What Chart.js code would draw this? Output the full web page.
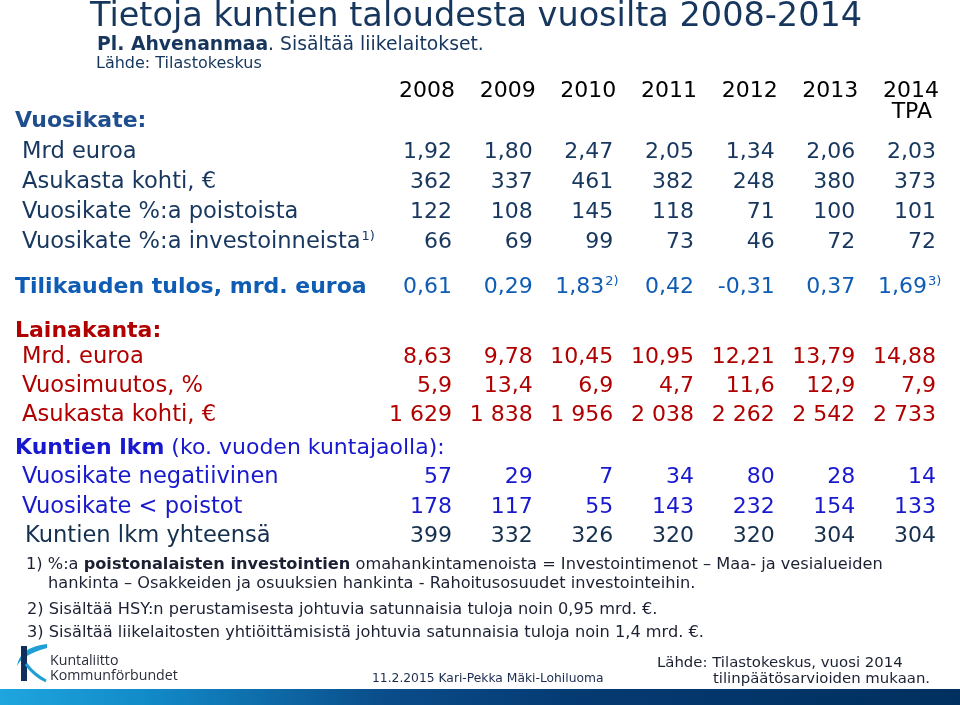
<!DOCTYPE html>
<html lang="fi">
<head>
<meta charset="utf-8">
<title>Tietoja kuntien taloudesta vuosilta 2008-2014</title>
<script src="https://cdn.jsdelivr.net/npm/chart.js@4"></script>
<style>
html, body { margin: 0; padding: 0; background: #fff; }
#taulu { display: block; }
</style>
</head>
<body>
<canvas id="taulu" width="960" height="705"></canvas>
<script>
// sarakkeet
const vuodet = ['2008', '2009', '2010', '2011', '2012', '2013', '2014'];
const vuosiLisa = ['', '', '', '', '', '', 'TPA'];

// Vuosikate
const vkMrd = [1.92, 1.80, 2.47, 2.05, 1.34, 2.06, 2.03];
const vkAsukas = [362, 337, 461, 382, 248, 380, 373];
const vkPoistot = [122, 108, 145, 118, 71, 100, 101];
const vkInvest = [66, 69, 99, 73, 46, 72, 72];

// Tilikauden tulos
const tulosMrd = [0.61, 0.29, 1.83, 0.42, -0.31, 0.37, 1.69];
const tulosViite = ['', '', '2)', '', '', '', '3)'];

// Lainakanta
const lainaMrd = [8.63, 9.78, 10.45, 10.95, 12.21, 13.79, 14.88];
const lainaMuutos = [5.9, 13.4, 6.9, 4.7, 11.6, 12.9, 7.9];
const lainaAsukas = [1629, 1838, 1956, 2038, 2262, 2542, 2733];

// Kuntien lkm
const kNegat = [57, 29, 7, 34, 80, 28, 14];
const kPoistot = [178, 117, 55, 143, 232, 154, 133];
const kYht = [399, 332, 326, 320, 320, 304, 304];

const FONTTI = '"DejaVu Sans", Verdana, sans-serif';
const NAVY = '#17375e';
const TULOS = '#0f5cb5';
const PUNA = '#b00000';
const SININEN = '#1818cf';
const TUMMA = '#15304f';
const ALAVIITE = '#1c2033';
const NIMIKOKO = 22.6;

// rivi = rivinumero y-akselilla (30 px / rivi)
const rivit = [
  { teksti: 'Mrd euroa', arvot: vkMrd, des: 2, rivi: 0, vari: NAVY, x: 22 },
  { teksti: 'Asukasta kohti, €', arvot: vkAsukas, des: 0, rivi: 1, vari: NAVY, x: 22 },
  { teksti: 'Vuosikate %:a poistoista', arvot: vkPoistot, des: 0, rivi: 2, vari: NAVY, x: 22 },
  { teksti: 'Vuosikate %:a investoinneista', yla: '1)', arvot: vkInvest, des: 0, rivi: 3, vari: NAVY, x: 22 },
  { teksti: 'Tilikauden tulos, mrd. euroa', lihava: true, arvot: tulosMrd, viitteet: tulosViite, des: 2, rivi: 4.5, vari: TULOS, x: 15 },
  { teksti: 'Mrd. euroa', arvot: lainaMrd, des: 2, rivi: 6.83, vari: PUNA, x: 22 },
  { teksti: 'Vuosimuutos, %', arvot: lainaMuutos, des: 1, rivi: 7.8, vari: PUNA, x: 22 },
  { teksti: 'Asukasta kohti, €', arvot: lainaAsukas, des: 0, rivi: 8.77, vari: PUNA, x: 22 },
  { teksti: 'Vuosikate negatiivinen', arvot: kNegat, des: 0, rivi: 10.83, vari: SININEN, x: 22 },
  { teksti: 'Vuosikate < poistot', arvot: kPoistot, des: 0, rivi: 11.83, vari: SININEN, x: 22 },
  { teksti: 'Kuntien lkm yhteensä', arvot: kYht, des: 0, rivi: 12.8, vari: TUMMA, x: 25 }
];

const otsikot = [
  { osat: [{ t: 'Vuosikate:', b: true }], rivi: -1.03, vari: '#1f4e8f', x: 15 },
  { osat: [{ t: 'Lainakanta:', b: true }], rivi: 5.95, vari: PUNA, x: 15 },
  { osat: [{ t: 'Kuntien lkm', b: true }, { t: ' (ko. vuoden kuntajaolla):' }], rivi: 9.87, vari: SININEN, x: 15 }
];
const VUOSIRIVI = -2.03;
const TPARIVI = -1.33;

function muotoile(v, des) {
  let s = Math.abs(v).toFixed(des);
  let [koko, osa] = s.split('.');
  koko = koko.replace(/\B(?=(\d{3})+(?!\d))/g, ' ');
  return (v < 0 ? '-' : '') + koko + (osa ? ',' + osa : '');
}

function fontti(koko, lihava) {
  return (lihava ? 'bold ' : '') + koko + 'px ' + FONTTI;
}

// tekstiä useassa osassa (lihava / normaali)
function osina(c, x, y, osat, koko, vari) {
  let px = x;
  c.fillStyle = vari;
  c.textAlign = 'left';
  for (const o of osat) {
    c.font = fontti(koko, o.b);
    c.fillText(o.t, px, y);
    px += c.measureText(o.t).width;
  }
  return px;
}

function logo(c) {
  c.save();
  c.fillStyle = '#1f9fd6';
  c.beginPath();
  c.moveTo(47, 644);
  c.quadraticCurveTo(20, 647, 17, 666);
  c.quadraticCurveTo(22, 655, 47, 648);
  c.closePath();
  c.fill();
  c.fillStyle = '#0f2f5c';
  c.fillRect(21, 646, 6, 35);
  c.strokeStyle = '#1f9fd6';
  c.lineWidth = 3;
  c.beginPath();
  c.moveTo(26, 664);
  c.quadraticCurveTo(34, 675, 46, 681);
  c.stroke();
  c.restore();
}

const taulukkoPlugin = {
  id: 'taulukko',
  afterDraw(chart) {
    const c = chart.ctx;
    const xs = chart.scales.x;
    const ys = chart.scales.y;
    c.save();
    c.textBaseline = 'alphabetic';

    // otsikko
    c.font = fontti(33.5);
    c.fillStyle = '#16365d';
    c.textAlign = 'left';
    c.fillText('Tietoja kuntien taloudesta vuosilta 2008-2014', 90, 26);
    osina(c, 97, 50, [{ t: 'Pl. Ahvenanmaa', b: true }, { t: '. Sisältää liikelaitokset.' }], 18.8, '#16365d');
    osina(c, 96, 68, [{ t: 'Lähde: Tilastokeskus' }], 16, '#16365d');

    // vuodet
    c.font = fontti(22);
    c.fillStyle = '#000';
    vuodet.forEach((v, i) => {
      const x = xs.getPixelForValue(i) + 3;
      c.textAlign = 'right';
      c.fillText(v, x, ys.getPixelForValue(VUOSIRIVI));
      if (vuosiLisa[i]) c.fillText(vuosiLisa[i], x - 7, ys.getPixelForValue(TPARIVI));
    });

    otsikot.forEach(o => osina(c, o.x, ys.getPixelForValue(o.rivi), o.osat, 22, o.vari));

    // rivit
    chart.data.datasets.forEach((ds, di) => {
      const r = rivit[di];
      const meta = chart.getDatasetMeta(di);
      const y = meta.data[0].y;
      const loppu = osina(c, r.x, y, [{ t: r.teksti, b: r.lihava }], r.lihava ? 22 : NIMIKOKO, r.vari);
      if (r.yla) {
        c.font = fontti(13);
        c.fillText(r.yla, loppu + 1, y - 8);
      }
      meta.data.forEach((p, i) => {
        const s = muotoile(r.arvot[i], r.des);
        const viite = r.viitteet ? r.viitteet[i] : '';
        c.font = fontti(22);
        c.fillStyle = r.vari;
        c.textAlign = 'right';
        const x = viite ? p.x - 9 : p.x;
        c.fillText(s, x, p.y);
        if (viite) {
          c.font = fontti(13);
          c.textAlign = 'left';
          c.fillText(viite, x + 1, p.y - 8);
        }
      });
    });

    // alaviitteet
    const AK = 16.2;
    osina(c, 26, 569, [{ t: '1) %:a ' }, { t: 'poistonalaisten investointien', b: true },
      { t: ' omahankintamenoista = Investointimenot – Maa- ja vesialueiden' }], AK, ALAVIITE);
    osina(c, 48, 588, [{ t: 'hankinta – Osakkeiden ja osuuksien hankinta - Rahoitusosuudet investointeihin.' }], AK, ALAVIITE);
    osina(c, 27, 614, [{ t: '2) Sisältää HSY:n perustamisesta johtuvia satunnaisia tuloja noin 0,95 mrd. €.' }], AK, ALAVIITE);
    osina(c, 27, 637, [{ t: '3) Sisältää liikelaitosten yhtiöittämisistä johtuvia satunnaisia tuloja noin 1,4 mrd. €.' }], AK, ALAVIITE);

    osina(c, 657, 667, [{ t: 'Lähde: Tilastokeskus, vuosi 2014' }], 14.9, ALAVIITE);
    osina(c, 713, 683, [{ t: 'tilinpäätösarvioiden mukaan.' }], 14.9, ALAVIITE);
    osina(c, 372, 682, [{ t: '11.2.2015 Kari-Pekka Mäki-Lohiluoma' }], 12.3, '#1a2a4f');

    // logo ja alapalkki
    logo(c);
    c.font = '14.2px "Open Sans", sans-serif';
    c.fillStyle = '#2b2d3b';
    c.textAlign = 'left';
    c.fillText('Kuntaliitto', 50, 665);
    c.fillText('Kommunförbundet', 50, 680);

    const g = c.createLinearGradient(0, 0, 960, 0);
    g.addColorStop(0, '#1fa6de');
    g.addColorStop(0.15, '#128bc9');
    g.addColorStop(0.4, '#0a4d8a');
    g.addColorStop(0.6, '#053a72');
    g.addColorStop(1, '#00305f');
    c.fillStyle = g;
    c.fillRect(0, 689, 960, 16);
    c.restore();
  }
};

const ctx = document.getElementById('taulu').getContext('2d');
const taulukko = new Chart(ctx, {
  type: 'scatter',
  data: {
    datasets: rivit.map(r => ({
      label: r.teksti,
      data: r.arvot.map((v, i) => ({ x: i, y: r.rivi })),
      pointRadius: 0,
      pointHoverRadius: 0,
      showLine: false
    }))
  },
  options: {
    responsive: false,
    animation: false,
    events: [],
    layout: { padding: { left: 452, right: 24, top: 68, bottom: 97 } },
    scales: {
      x: { type: 'linear', min: 0, max: vuodet.length - 1, display: false },
      y: { type: 'linear', min: -3, max: 15, reverse: true, display: false }
    },
    plugins: {
      legend: { display: false },
      tooltip: { enabled: false }
    }
  },
  plugins: [taulukkoPlugin]
});
</script>
</body>
</html>
